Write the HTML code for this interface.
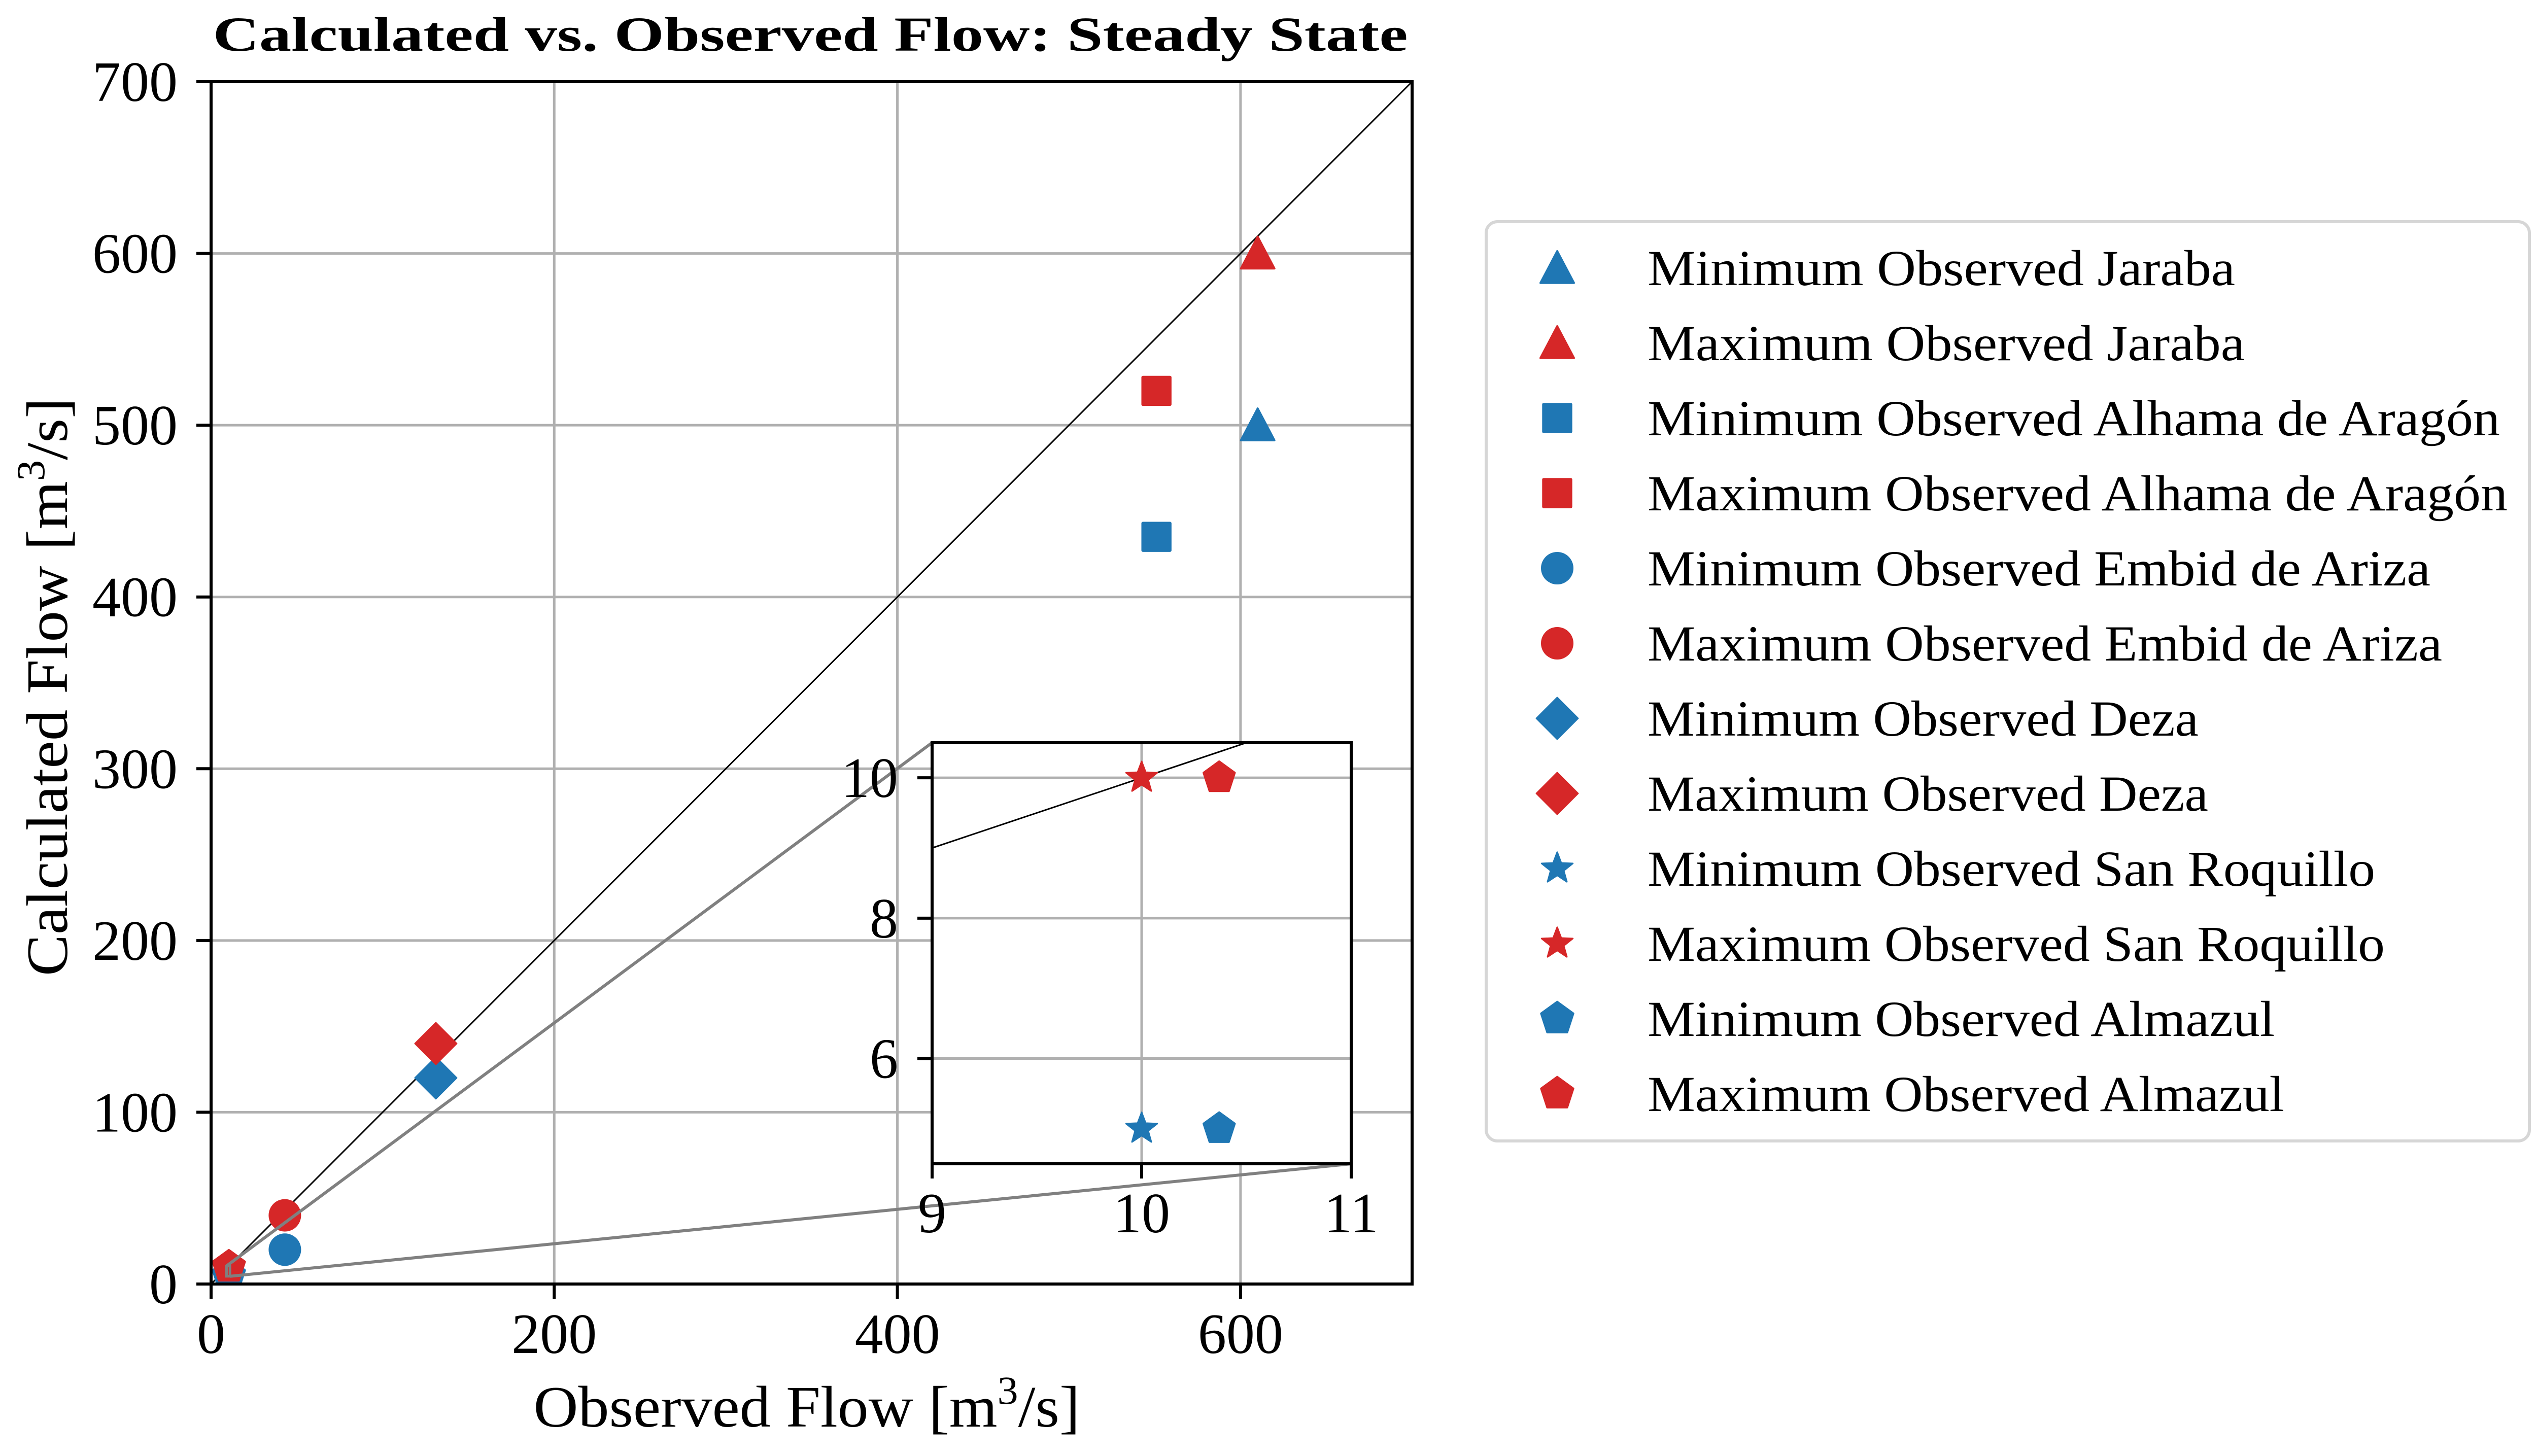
<!DOCTYPE html>
<html><head><meta charset="utf-8"><style>
html,body{margin:0;padding:0;background:#fff;}
svg{display:block;}
text{font-family:"Liberation Serif",serif;fill:#000;}
</style></head><body>
<svg id="chart" width="5025" height="2870" viewBox="0 0 5025 2870" xmlns="http://www.w3.org/2000/svg">
<rect width="5025" height="2870" fill="#fff"/>
<g id="main"></g>
<g id="inset"></g>
<g id="legend"></g>
</svg>
<script>
// ---- data ----
const seriesNames = ["Minimum Observed Jaraba","Maximum Observed Jaraba","Minimum Observed Alhama de Aragón","Maximum Observed Alhama de Aragón","Minimum Observed Embid de Ariza","Maximum Observed Embid de Ariza","Minimum Observed Deza","Maximum Observed Deza","Minimum Observed San Roquillo","Maximum Observed San Roquillo","Minimum Observed Almazul","Maximum Observed Almazul"];
const seriesMarkers = ["tri","tri","sq","sq","circ","circ","dia","dia","star","star","pent","pent"];
const seriesColors = ["#1f77b4","#d62728","#1f77b4","#d62728","#1f77b4","#d62728","#1f77b4","#d62728","#1f77b4","#d62728","#1f77b4","#d62728"];
const observedX = [610, 610, 551, 551, 43, 43, 131, 131, 10, 10, 10.37, 10.37];
const calculatedY = [500, 600, 435, 520, 20, 40, 120, 140, 5, 10, 5, 10];
const xTicks = [0, 200, 400, 600];
const yTicks = [0, 100, 200, 300, 400, 500, 600, 700];
const insetXTicks = [9, 10, 11];
const insetYTicks = [6, 8, 10];
const mainLim = [0, 700];
const insetXLim = [9, 11];
const insetYLim = [4.5, 10.5];

const NS = "http://www.w3.org/2000/svg";
function mk(parent, tag, attrs, txt){
  const e = document.createElementNS(NS, tag);
  for (const k in attrs) e.setAttribute(k, attrs[k]);
  if (txt !== undefined) e.textContent = txt;
  parent.appendChild(e);
  return e;
}
// main axes geometry
const M = {l:416, r:2783, t:161, b:2531};
const mx = v => M.l + (v - mainLim[0]) / (mainLim[1]-mainLim[0]) * (M.r - M.l);
const my = v => M.b - (v - mainLim[0]) / (mainLim[1]-mainLim[0]) * (M.b - M.t);
const I = {l:1837, r:2663, t:1464, b:2294};
const ix = v => I.l + (v - insetXLim[0]) / (insetXLim[1]-insetXLim[0]) * (I.r - I.l);
const iy = v => I.b - (v - insetYLim[0]) / (insetYLim[1]-insetYLim[0]) * (I.b - I.t);

function marker(parent, type, cx, cy, s, color){
  let e;
  if (type === "tri") {
    const h = s*0.5;
    e = mk(parent, "polygon", {points:`${cx},${cy-h} ${cx+h},${cy+h*0.9} ${cx-h},${cy+h*0.9}`, fill:color, "stroke":color, "stroke-width":4, "stroke-linejoin":"round"});
  } else if (type === "sq") {
    const h = s*0.45;
    e = mk(parent, "rect", {x:cx-h, y:cy-h, width:2*h, height:2*h, fill:color, rx:3});
  } else if (type === "circ") {
    e = mk(parent, "circle", {cx:cx, cy:cy, r:s*0.5, fill:color});
  } else if (type === "dia") {
    const h = s*0.62;
    e = mk(parent, "polygon", {points:`${cx},${cy-h} ${cx+h},${cy} ${cx},${cy+h} ${cx-h},${cy}`, fill:color, stroke:color, "stroke-width":3, "stroke-linejoin":"round"});
  } else if (type === "star") {
    const R = s*0.52, r = R*0.42; let pts = [];
    for (let k=0;k<10;k++){ const a = -Math.PI/2 + k*Math.PI/5; const rr = k%2?r:R; pts.push((cx+rr*Math.cos(a)).toFixed(1)+","+(cy+rr*Math.sin(a)).toFixed(1)); }
    e = mk(parent, "polygon", {points:pts.join(" "), fill:color, stroke:color, "stroke-width":3, "stroke-linejoin":"round"});
  } else {
    const R = s*0.52; let pts = [];
    for (let k=0;k<5;k++){ const a = -Math.PI/2 + k*2*Math.PI/5; pts.push((cx+R*Math.cos(a)).toFixed(1)+","+(cy+R*Math.sin(a)).toFixed(1)); }
    e = mk(parent, "polygon", {points:pts.join(" "), fill:color, stroke:color, "stroke-width":4, "stroke-linejoin":"round"});
  }
  return e;
}

const gM = document.getElementById("main");
// title
let t = mk(gM, "text", {x:1597, y:100, "text-anchor":"middle", "font-size":96, "font-weight":"bold", textLength:2355, lengthAdjust:"spacingAndGlyphs"}, "Calculated vs. Observed Flow: Steady State");


// grid
xTicks.forEach(v => {
  const g = mk(gM, "line", {x1:mx(v), x2:mx(v), y1:M.t, y2:M.b, stroke:"#b0b0b0", "stroke-width":5});
  
  
});
yTicks.forEach(v => {
  const g = mk(gM, "line", {x1:M.l, x2:M.r, y1:my(v), y2:my(v), stroke:"#b0b0b0", "stroke-width":5});
  
  
});
// diagonal 1:1 line
let d = mk(gM, "line", {x1:mx(0), y1:my(0), x2:mx(700), y2:my(700), stroke:"#000", "stroke-width":3});


// main markers (clip to axes)
const defs = mk(document.getElementById("chart"), "defs", {});
const cp = mk(defs, "clipPath", {id:"mclip"}); mk(cp, "rect", {x:M.l, y:M.t, width:M.r-M.l, height:M.b-M.t});
const cp2 = mk(defs, "clipPath", {id:"iclip"}); mk(cp2, "rect", {x:I.l, y:I.t, width:I.r-I.l, height:I.b-I.t});
const gPts = mk(gM, "g", {"clip-path":"url(#mclip)"});
const sizes = {tri:66, sq:66, circ:64, dia:66, star:62, pent:64};
for (let i=0;i<observedX.length;i++){
  const e = marker(gPts, seriesMarkers[i], mx(observedX[i]), my(calculatedY[i]), sizes[seriesMarkers[i]], seriesColors[i]);
  
  
}
// zoom region rect + connectors
let zr = mk(gM, "rect", {x:mx(insetXLim[0]), y:my(insetYLim[1]), width:mx(insetXLim[1])-mx(insetXLim[0]), height:my(insetYLim[0])-my(insetYLim[1]), fill:"none", stroke:"#808080", "stroke-width":5});


let c1 = mk(gM, "line", {x1:I.l, y1:I.t, x2:mx(insetXLim[0]), y2:my(insetYLim[1]), stroke:"#808080", "stroke-width":6});


let c2 = mk(gM, "line", {x1:I.r, y1:I.b, x2:mx(insetXLim[1]), y2:my(insetYLim[0]), stroke:"#808080", "stroke-width":6});


// spines
let sp = mk(gM, "rect", {x:M.l, y:M.t, width:M.r-M.l, height:M.b-M.t, fill:"none", stroke:"#000", "stroke-width":6});


// ticks & labels
xTicks.forEach(v => {
  mk(gM, "line", {x1:mx(v), x2:mx(v), y1:M.b, y2:M.b+29, stroke:"#000", "stroke-width":6});
  const l = mk(gM, "text", {x:mx(v), y:2667, "text-anchor":"middle", "font-size":112}, String(v));
  
  
});
yTicks.forEach(v => {
  mk(gM, "line", {x1:M.l-29, x2:M.l, y1:my(v), y2:my(v), stroke:"#000", "stroke-width":6});
  const l = mk(gM, "text", {x:350, y:my(v)+38, "text-anchor":"end", "font-size":112}, String(v));
  
  
});
let xl = mk(gM, "text", {x:1590, y:2812, "text-anchor":"middle", "font-size":116, textLength:1077, lengthAdjust:"spacingAndGlyphs"});
xl.innerHTML = 'Observed Flow [m<tspan dy="-45" font-size="78">3</tspan><tspan dy="45">/s]</tspan>';


let yl = mk(gM, "text", {x:0, y:0, "text-anchor":"middle", "font-size":116, transform:"translate(132,1354) rotate(-90)", textLength:1140, lengthAdjust:"spacingAndGlyphs"});
yl.innerHTML = 'Calculated Flow [m<tspan dy="-45" font-size="78">3</tspan><tspan dy="45">/s]</tspan>';



// ---- inset ----
const gI = document.getElementById("inset");
let ib = mk(gI, "rect", {x:I.l, y:I.t, width:I.r-I.l, height:I.b-I.t, fill:"#fff"});


insetXTicks.forEach(v => { const g = mk(gI, "line", {x1:ix(v), x2:ix(v), y1:I.t, y2:I.b, stroke:"#b0b0b0", "stroke-width":5});   });
insetYTicks.forEach(v => { const g = mk(gI, "line", {x1:I.l, x2:I.r, y1:iy(v), y2:iy(v), stroke:"#b0b0b0", "stroke-width":5});   });
const gIc = mk(gI, "g", {"clip-path":"url(#iclip)"});
let id = mk(gIc, "line", {x1:ix(8), y1:iy(8), x2:ix(12), y2:iy(12), stroke:"#000", "stroke-width":3});


for (let i=0;i<observedX.length;i++){
  if (observedX[i] < insetXLim[0]-0.5 || observedX[i] > insetXLim[1]+0.5 || calculatedY[i] > insetYLim[1]+0.5) continue;
  const e = marker(gIc, seriesMarkers[i], ix(observedX[i]), iy(calculatedY[i]), 62, seriesColors[i]);
  
  
}
let isp = mk(gI, "rect", {x:I.l, y:I.t, width:I.r-I.l, height:I.b-I.t, fill:"none", stroke:"#000", "stroke-width":6});


insetXTicks.forEach(v => {
  mk(gI, "line", {x1:ix(v), x2:ix(v), y1:I.b, y2:I.b+29, stroke:"#000", "stroke-width":6});
  const l = mk(gI, "text", {x:ix(v), y:2429, "text-anchor":"middle", "font-size":112}, String(v));
  
  
});
insetYTicks.forEach(v => {
  mk(gI, "line", {x1:I.l-29, x2:I.l, y1:iy(v), y2:iy(v), stroke:"#000", "stroke-width":6});
  const l = mk(gI, "text", {x:1770, y:iy(v)+38, "text-anchor":"end", "font-size":112}, String(v));
  
  
});

// ---- legend ----
const gL = document.getElementById("legend");
let lb = mk(gL, "rect", {x:2929, y:437, width:2056, height:1812, rx:22, fill:"#fff", stroke:"#d6d6d6", "stroke-width":6});


const legendWidths = [1158, 1177, 1680, 1695, 1543, 1566, 1086, 1105, 1434, 1453, 1236, 1255];
for (let i=0;i<seriesNames.length;i++){
  const cy = 528 + i*148;
  const g = mk(gL, "g", {});
  
  
  marker(g, seriesMarkers[i], 3069, cy, sizes[seriesMarkers[i]], seriesColors[i]);
  mk(g, "text", {x:3247, y:cy+34, "font-size":100, textLength:legendWidths[i], lengthAdjust:"spacingAndGlyphs"}, seriesNames[i]);
}
</script>
</body></html>
